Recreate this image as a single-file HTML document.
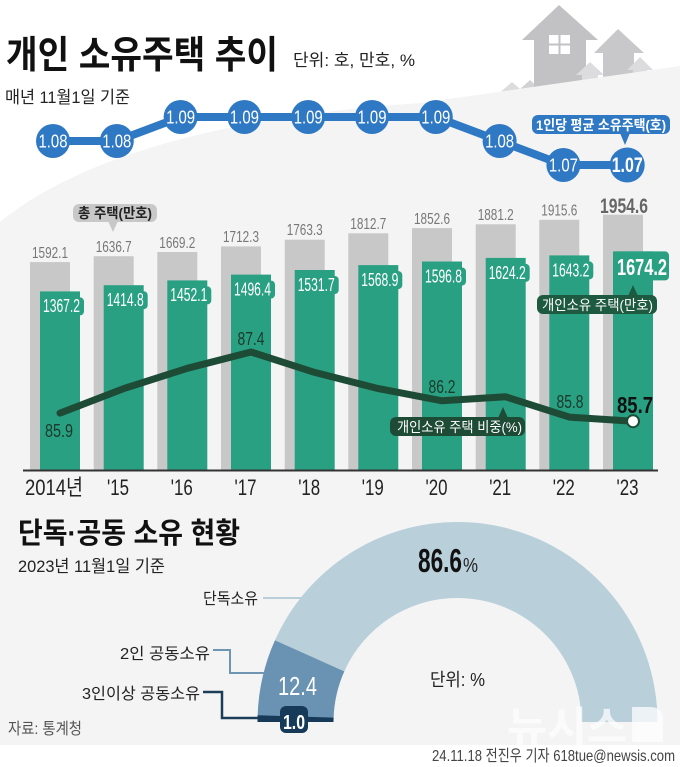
<!DOCTYPE html>
<html><head><meta charset="utf-8"><style>
html,body{margin:0;padding:0;background:#fff;}
svg{display:block;}
text{font-family:"Liberation Sans","Noto Sans CJK KR",sans-serif;}
</style></head><body>
<svg width="680" height="767" viewBox="0 0 680 767" xmlns="http://www.w3.org/2000/svg">
<rect x="0" y="0" width="680" height="767" fill="#ffffff"/>
<!-- houses -->
<polygon points="512,82 527,95 520,95 520,105 504,105 504,95 497,95" fill="#dcdcde"/>
<polygon points="530,80 543,92 537,92 537,105 523,105 523,92 517,92" fill="#d2d2d4"/>
<polygon points="559,5 598,40 586,40 586,105 534,105 534,40 522,40" fill="#c2c2c4"/>
<rect x="549" y="35" width="21" height="19" fill="#ffffff"/>
<rect x="558.5" y="35" width="2" height="19" fill="#c2c2c4"/>
<rect x="549" y="43.5" width="21" height="2" fill="#c2c2c4"/>
<polygon points="618,29 644,53 634,53 634,100 603,100 603,53 594,53" fill="#c8c8ca"/>
<polygon points="590,62 604,75 598,75 598,100 582,100 582,75 576,75" fill="#dcdcde"/>
<polygon points="640,57 653,70 647,70 647,95 633,95 633,70 627,70" fill="#dcdcde"/>
<!-- grey ground -->
<path d="M0,222 C70,165 200,118 420,103 L680,66 L680,745 L0,745 Z" fill="#f4f4f4"/>

<!-- title -->
<text x="6" y="68" font-size="38" font-weight="bold" fill="#111" textLength="272" lengthAdjust="spacingAndGlyphs">개인 소유주택 추이</text>
<text x="293" y="66" font-size="17" fill="#222" textLength="122" lengthAdjust="spacingAndGlyphs">단위: 호, 만호, %</text>
<text x="5" y="103" font-size="17" fill="#222" textLength="125" lengthAdjust="spacingAndGlyphs">매년 11월1일 기준</text>

<!-- blue line -->
<polyline points="53,141 116.8,141 180.6,117 244.4,117 308.2,117 372,117 435.8,117 499.6,141 563.4,165 627.2,165" fill="none" stroke="#2f78c4" stroke-width="8" stroke-linejoin="round"/>
<g fill="#2f78c4">
<circle cx="53" cy="141" r="17"/><circle cx="116.8" cy="141" r="17"/><circle cx="180.6" cy="117" r="17"/><circle cx="244.4" cy="117" r="17"/><circle cx="308.2" cy="117" r="17"/><circle cx="372" cy="117" r="17"/><circle cx="435.8" cy="117" r="17"/><circle cx="499.6" cy="141" r="17"/><circle cx="563.4" cy="165" r="17"/><circle cx="627.2" cy="165" r="17.5"/>
</g>
<g fill="#ffffff" font-size="18" text-anchor="middle">
<text x="53" y="147.5" textLength="29" lengthAdjust="spacingAndGlyphs">1.08</text>
<text x="116.8" y="147.5" textLength="29" lengthAdjust="spacingAndGlyphs">1.08</text>
<text x="180.6" y="123.5" textLength="29" lengthAdjust="spacingAndGlyphs">1.09</text>
<text x="244.4" y="123.5" textLength="29" lengthAdjust="spacingAndGlyphs">1.09</text>
<text x="308.2" y="123.5" textLength="29" lengthAdjust="spacingAndGlyphs">1.09</text>
<text x="372" y="123.5" textLength="29" lengthAdjust="spacingAndGlyphs">1.09</text>
<text x="435.8" y="123.5" textLength="29" lengthAdjust="spacingAndGlyphs">1.09</text>
<text x="499.6" y="147.5" textLength="29" lengthAdjust="spacingAndGlyphs">1.08</text>
<text x="563.4" y="171.5" textLength="29" lengthAdjust="spacingAndGlyphs">1.07</text>
<text x="627.2" y="172" font-size="21" font-weight="bold" textLength="31" lengthAdjust="spacingAndGlyphs">1.07</text>
</g>
<!-- 1인당 tag -->
<rect x="532" y="115" width="138" height="19" rx="6" fill="#2f78c4"/>
<polygon points="620,133 630,133 625,145" fill="#2f78c4"/>
<text x="601" y="130" font-size="14" font-weight="bold" fill="#fff" text-anchor="middle" textLength="130" lengthAdjust="spacingAndGlyphs">1인당 평균 소유주택(호)</text>

<!-- grey bars -->
<g fill="#c8c8c8">
<rect x="30" y="262.1" width="40" height="208.4"/>
<rect x="93.7" y="256.2" width="40" height="214.3"/>
<rect x="157.3" y="252" width="40" height="218.5"/>
<rect x="221" y="246.4" width="40" height="224.1"/>
<rect x="284.7" y="239.7" width="40" height="230.8"/>
<rect x="348.3" y="233.3" width="40" height="237.2"/>
<rect x="412" y="228.1" width="40" height="242.4"/>
<rect x="475.7" y="224.3" width="40" height="246.2"/>
<rect x="539.3" y="219.8" width="40" height="250.7"/>
<rect x="603" y="214.7" width="40" height="255.8"/>
</g>
<g fill="#777" font-size="16" text-anchor="middle">
<text x="50" y="258" textLength="36" lengthAdjust="spacingAndGlyphs">1592.1</text>
<text x="113.7" y="252" textLength="36" lengthAdjust="spacingAndGlyphs">1636.7</text>
<text x="177.3" y="248" textLength="36" lengthAdjust="spacingAndGlyphs">1669.2</text>
<text x="241" y="242" textLength="36" lengthAdjust="spacingAndGlyphs">1712.3</text>
<text x="304.7" y="235" textLength="36" lengthAdjust="spacingAndGlyphs">1763.3</text>
<text x="368.3" y="229" textLength="36" lengthAdjust="spacingAndGlyphs">1812.7</text>
<text x="432" y="224" textLength="36" lengthAdjust="spacingAndGlyphs">1852.6</text>
<text x="495.7" y="220" textLength="36" lengthAdjust="spacingAndGlyphs">1881.2</text>
<text x="559.3" y="215.5" textLength="36" lengthAdjust="spacingAndGlyphs">1915.6</text>
<text x="624" y="213" font-size="21" font-weight="bold" fill="#666" textLength="48" lengthAdjust="spacingAndGlyphs">1954.6</text>
</g>

<!-- green bars -->
<g fill="#2aa083">
<rect x="40" y="291.4" width="40" height="179.1"/>
<rect x="103.7" y="285.2" width="40" height="185.3"/>
<rect x="167.3" y="280.4" width="40" height="190.1"/>
<rect x="231" y="274.6" width="40" height="195.9"/>
<rect x="294.7" y="270" width="40" height="200.5"/>
<rect x="358.3" y="265.1" width="40" height="205.4"/>
<rect x="422" y="261.5" width="40" height="209"/>
<rect x="485.7" y="257.9" width="40" height="212.6"/>
<rect x="549.3" y="255.4" width="40" height="215.1"/>
<rect x="613" y="251.4" width="40" height="219.1"/>
<!-- label tabs -->
<rect x="42" y="297.4" width="42" height="18" rx="4"/>
<rect x="105.7" y="291.2" width="42" height="18" rx="4"/>
<rect x="169.3" y="286.4" width="42" height="18" rx="4"/>
<rect x="233" y="280.6" width="42" height="18" rx="4"/>
<rect x="296.7" y="276" width="42" height="18" rx="4"/>
<rect x="360.3" y="271.1" width="42" height="18" rx="4"/>
<rect x="424" y="267.5" width="42" height="18" rx="4"/>
<rect x="487.7" y="263.9" width="42" height="18" rx="4"/>
<rect x="551.3" y="261.4" width="42" height="18" rx="4"/>
<rect x="613" y="251.4" width="56" height="29" rx="4"/>
</g>
<g fill="#fff" font-size="18" text-anchor="middle">
<text x="61.5" y="312" textLength="37" lengthAdjust="spacingAndGlyphs">1367.2</text>
<text x="125.2" y="306" textLength="37" lengthAdjust="spacingAndGlyphs">1414.8</text>
<text x="188.8" y="301" textLength="37" lengthAdjust="spacingAndGlyphs">1452.1</text>
<text x="252.5" y="295.5" textLength="37" lengthAdjust="spacingAndGlyphs">1496.4</text>
<text x="316.2" y="291" textLength="37" lengthAdjust="spacingAndGlyphs">1531.7</text>
<text x="379.8" y="286" textLength="37" lengthAdjust="spacingAndGlyphs">1568.9</text>
<text x="443.5" y="282.5" textLength="37" lengthAdjust="spacingAndGlyphs">1596.8</text>
<text x="507.2" y="279" textLength="37" lengthAdjust="spacingAndGlyphs">1624.2</text>
<text x="570.8" y="276.5" textLength="37" lengthAdjust="spacingAndGlyphs">1643.2</text>
<text x="642" y="275" font-size="23" font-weight="bold" textLength="50" lengthAdjust="spacingAndGlyphs">1674.2</text>
</g>

<!-- 총 주택 tag -->
<rect x="73" y="204" width="84" height="18" rx="6" fill="#c8c8c8"/>
<polygon points="108,221 118,221 113,232" fill="#c8c8c8"/>
<text x="115" y="218" font-size="14" font-weight="bold" fill="#222" text-anchor="middle" textLength="74" lengthAdjust="spacingAndGlyphs">총 주택(만호)</text>

<!-- 개인소유 주택 tag -->
<rect x="537" y="295" width="120" height="19" rx="6" fill="#1d5a40"/>
<polygon points="628,296 638,296 633,285" fill="#1d5a40"/>
<text x="597.5" y="310" font-size="14" fill="#fff" text-anchor="middle" textLength="111" lengthAdjust="spacingAndGlyphs">개인소유 주택(만호)</text>

<!-- percent line -->
<polyline points="60,413.1 123.7,388.6 187.3,368.3 251,352 314.7,372.4 378.3,388.6 442,400.8 505.7,396.8 569.3,417.1 633,421.2" fill="none" stroke="#1e4b36" stroke-width="7" stroke-linejoin="round" stroke-linecap="round"/>
<circle cx="633" cy="421.2" r="6" fill="#fff" stroke="#1e4b36" stroke-width="2"/>
<g fill="#1b3a2b" font-size="18" text-anchor="middle">
<text x="59" y="437" textLength="28" lengthAdjust="spacingAndGlyphs">85.9</text>
<text x="251" y="345" textLength="27" lengthAdjust="spacingAndGlyphs">87.4</text>
<text x="442" y="393" textLength="27" lengthAdjust="spacingAndGlyphs">86.2</text>
<text x="570" y="408" textLength="27" lengthAdjust="spacingAndGlyphs">85.8</text>
<text x="635" y="413" font-size="23" font-weight="bold" fill="#111" textLength="36" lengthAdjust="spacingAndGlyphs">85.7</text>
</g>
<!-- 비중 tag -->
<rect x="390" y="417" width="135" height="19" rx="6" fill="#1e4b36"/>
<polygon points="498,418 508,418 503,407" fill="#1e4b36"/>
<text x="459.5" y="432" font-size="14" fill="#fff" text-anchor="middle" textLength="125" lengthAdjust="spacingAndGlyphs">개인소유 주택 비중(%)</text>

<!-- axis -->
<line x1="23" y1="470.5" x2="658" y2="470.5" stroke="#333" stroke-width="2"/>
<g fill="#222" font-size="22" text-anchor="middle">
<text x="54" y="495" textLength="58" lengthAdjust="spacingAndGlyphs">2014년</text>
<text x="118" y="495" textLength="22" lengthAdjust="spacingAndGlyphs">'15</text>
<text x="181.8" y="495" textLength="22" lengthAdjust="spacingAndGlyphs">'16</text>
<text x="245.5" y="495" textLength="22" lengthAdjust="spacingAndGlyphs">'17</text>
<text x="309.2" y="495" textLength="22" lengthAdjust="spacingAndGlyphs">'18</text>
<text x="372.8" y="495" textLength="22" lengthAdjust="spacingAndGlyphs">'19</text>
<text x="436.5" y="495" textLength="22" lengthAdjust="spacingAndGlyphs">'20</text>
<text x="500.2" y="495" textLength="22" lengthAdjust="spacingAndGlyphs">'21</text>
<text x="563.8" y="495" textLength="22" lengthAdjust="spacingAndGlyphs">'22</text>
<text x="627.5" y="495" textLength="22" lengthAdjust="spacingAndGlyphs">'23</text>
</g>

<!-- bottom section -->
<text x="18" y="543" font-size="29" font-weight="bold" fill="#111" textLength="222" lengthAdjust="spacingAndGlyphs">단독·공동 소유 현황</text>
<text x="18" y="572" font-size="17" fill="#222" textLength="147" lengthAdjust="spacingAndGlyphs">2023년 11월1일 기준</text>

<!-- donut -->
<path d="M274.96,640.27 A200,200 0 0 1 657.5,722 L581.5,722 A124,124 0 0 0 344.33,671.33 Z" fill="#b9d0da"/>
<path d="M257.6,715.7 A200,200 0 0 1 274.96,640.27 L344.33,671.33 A124,124 0 0 0 333.6,718.1 Z" fill="#6a93b3"/>
<path d="M257.5,722 A200,200 0 0 1 257.6,715.2 L333.6,717.6 A124,124 0 0 0 333.5,722 Z" fill="#163a57"/>
<rect x="280" y="706" width="28" height="27" rx="6" fill="#163a57"/>
<text x="294" y="729" font-size="20" font-weight="bold" fill="#fff" text-anchor="middle" textLength="22" lengthAdjust="spacingAndGlyphs">1.0</text>
<text x="297.5" y="695" font-size="26" fill="#fff" text-anchor="middle" textLength="39" lengthAdjust="spacingAndGlyphs">12.4</text>
<text x="418" y="572" font-size="33" font-weight="bold" fill="#111" textLength="44" lengthAdjust="spacingAndGlyphs">86.6</text>
<text x="463" y="572" font-size="20" fill="#222" textLength="15" lengthAdjust="spacingAndGlyphs">%</text>
<text x="430" y="686" font-size="18" fill="#222" textLength="55" lengthAdjust="spacingAndGlyphs">단위: %</text>

<!-- connectors -->
<line x1="263" y1="598" x2="302" y2="598" stroke="#b8cfda" stroke-width="2"/>
<polyline points="213,650 230,650 230,673 264,673" fill="none" stroke="#6e95b2" stroke-width="2"/>
<polyline points="203,692 222,692 222,718 259,718" fill="none" stroke="#1b3d5a" stroke-width="2.5"/>
<g font-size="16" fill="#222" text-anchor="end">
<text x="258" y="604" textLength="55" lengthAdjust="spacingAndGlyphs">단독소유</text>
<text x="210" y="659" textLength="90" lengthAdjust="spacingAndGlyphs">2인 공동소유</text>
<text x="200" y="699" textLength="118" lengthAdjust="spacingAndGlyphs">3인이상 공동소유</text>
</g>
<text x="8" y="734" font-size="16" fill="#555" textLength="74" lengthAdjust="spacingAndGlyphs">자료: 통계청</text>

<!-- watermark -->
<g fill="#ffffff" opacity="0.72">
<text x="507" y="742" font-size="42" font-weight="bold" textLength="120" lengthAdjust="spacingAndGlyphs">뉴시스</text>
<path d="M632,707 L650,707 Q663,707 663,720 L663,742 L632,742 Z"/>
</g>

<!-- credit -->
<text x="432" y="761" font-size="16" fill="#444" textLength="243" lengthAdjust="spacingAndGlyphs">24.11.18 전진우 기자 618tue@newsis.com</text>
</svg>
</body></html>
